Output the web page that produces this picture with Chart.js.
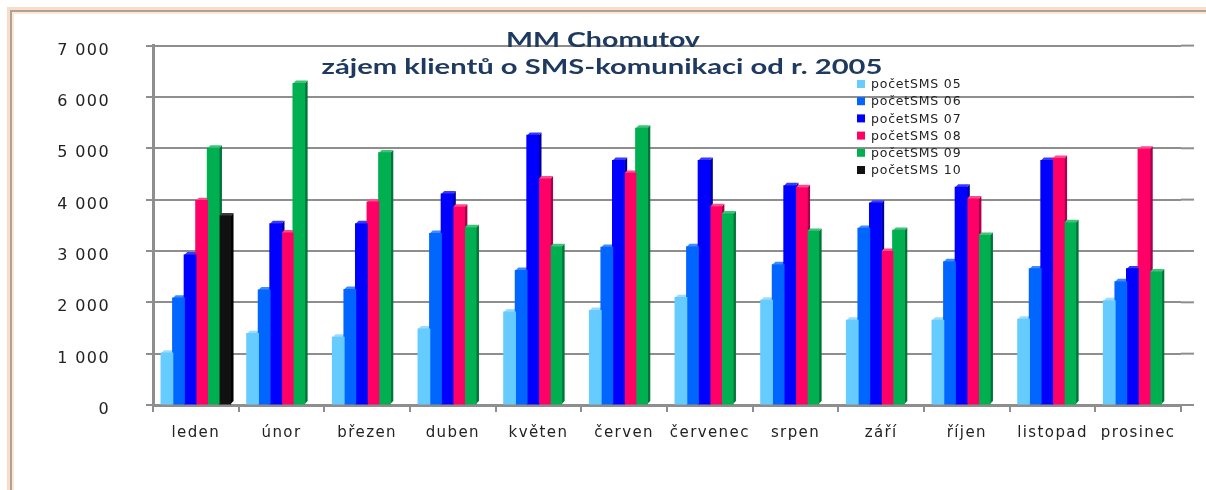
<!DOCTYPE html>
<html>
<head>
    <meta charset="utf-8">
    <title>MM Chomutov - SMS</title>
    <style>
        body {
            margin: 0;
            padding: 0;
            background-color: #fff;
        }

        #wrap {
            position: relative;
            width: 1206px;
            height: 490px;
            overflow: hidden;
        }

        /* page frame, top and left edge */
        .edge {
            position: absolute;
            right: 0;
            bottom: 0;
        }
        #edge1 { left: 7px; top: 7px; border-top: 3px solid #fbdcc6; border-left: 3px solid #fbdcc6; }
        #edge2 { left: 10px; top: 10px; border-top: 2px solid #aaa39c; border-left: 2px solid #aaa39c; }
        #edge3 { left: 12px; top: 12px; border-top: 2px solid #fde6d4; border-left: 2px solid #fde6d4; }

        canvas {
            position: absolute;
            left: 0;
            top: 0;
        }
    </style>
    <script src="https://cdn.jsdelivr.net/npm/chart.js"></script>
</head>
<body>
    <div id="wrap">
        <div class="edge" id="edge1"></div>
        <div class="edge" id="edge2"></div>
        <div class="edge" id="edge3"></div>
        <canvas id="smsChart" width="1206" height="490"></canvas>
    </div>

    <script>
        // data
        const months = ["leden", "únor", "březen", "duben", "květen", "červen", "červenec", "srpen", "září", "říjen", "listopad", "prosinec"];
        const sms05 = [1010, 1390, 1320, 1480, 1810, 1840, 2090, 2040, 1650, 1650, 1670, 2030];
        const sms06 = [2080, 2240, 2250, 3340, 2620, 3070, 3080, 2730, 3440, 2790, 2650, 2400];
        const sms07 = [2920, 3530, 3530, 4110, 5250, 4760, 4760, 4270, 3930, 4240, 4760, 2650];
        const sms08 = [3980, 3350, 3950, 3850, 4400, 4510, 3860, 4230, 2990, 4010, 4800, 4980];
        const sms09 = [5000, 6260, 4910, 3450, 3080, 5390, 3720, 3380, 3400, 3300, 3550, 2590];
        const sms10 = [3680, null, null, null, null, null, null, null, null, null, null, null];
        const seriesNames = ["početSMS 05", "početSMS 06", "početSMS 07", "početSMS 08", "početSMS 09", "početSMS 10"];
        const yTicks = [0, 1000, 2000, 3000, 4000, 5000, 6000, 7000];
        const titleLines = ["MM Chomutov", "zájem klientů o SMS-komunikaci od r. 2005"];

        const fills = ["#66ccff", "#0066ff", "#0000ff", "#ff0066", "#00b050", "#111111"];
        const sides = ["#45a2d2", "#0049bb", "#0000a0", "#a8004a", "#00753a", "#000000"];
        const tops = ["#9adcff", "#3d8cff", "#3a3aff", "#ff4a8c", "#3ec47a", "#3a3a3a"];
        const gridGray = "#8e8e8e";

        const allSeries = [sms05, sms06, sms07, sms08, sms09, sms10];
        const datasets = allSeries.map((vals, i) => ({
            label: seriesNames[i],
            data: vals,
            backgroundColor: fills[i],
            borderWidth: 0,
            inflateAmount: 0.6,
            categoryPercentage: 0.81,
            barPercentage: 1.0
        }));

        const DEPTH_X = 3;
        const DEPTH_Y = 3;

        // letter spacing for the axis texts (looks like Verdana in the original)
        const spacing = {
            id: "spacing",
            beforeDraw(chart) {
                chart.ctx.letterSpacing = "1.4px";
            }
        };

        // fake 3D: side and top face of each bar, drawn before the bars so the
        // next bar in the group hides what should be hidden
        const depth = {
            id: "depth",
            beforeDatasetsDraw(chart) {
                const ctx = chart.ctx;
                const area = chart.chartArea;
                ctx.save();
                // back wall grid runs a bit past the front of the floor
                ctx.strokeStyle = gridGray;
                ctx.lineWidth = 2;
                const yScale = chart.scales.y;
                yScale.ticks.forEach(t => {
                    const y = yScale.getPixelForValue(t.value);
                    ctx.beginPath();
                    ctx.moveTo(area.right, y);
                    ctx.lineTo(area.right + 13, y);
                    ctx.stroke();
                });
                chart.data.datasets.forEach((ds, i) => {
                    const meta = chart.getDatasetMeta(i);
                    meta.data.forEach((bar, j) => {
                        if (ds.data[j] == null) return;
                        const left = bar.x - bar.width / 2;
                        const right = bar.x + bar.width / 2;
                        const top = bar.y;
                        const base = bar.base;
                        ctx.fillStyle = sides[i];
                        ctx.beginPath();
                        ctx.moveTo(right, top);
                        ctx.lineTo(right + DEPTH_X, top - DEPTH_Y);
                        ctx.lineTo(right + DEPTH_X, base - DEPTH_Y);
                        ctx.lineTo(right, base);
                        ctx.closePath();
                        ctx.fill();
                        ctx.fillStyle = tops[i];
                        ctx.beginPath();
                        ctx.moveTo(left, top);
                        ctx.lineTo(left + DEPTH_X, top - DEPTH_Y);
                        ctx.lineTo(right + DEPTH_X, top - DEPTH_Y);
                        ctx.lineTo(right, top);
                        ctx.closePath();
                        ctx.fill();
                    });
                });
                ctx.restore();
            }
        };

        // title and legend sit on top of the plot, like in the original
        function stretchedText(ctx, text, cx, cy, sx) {
            ctx.save();
            ctx.translate(cx, cy);
            ctx.scale(sx, 1);
            ctx.fillText(text, 0, 0);
            ctx.restore();
        }

        const overlay = {
            id: "overlay",
            afterDraw(chart) {
                const ctx = chart.ctx;
                ctx.save();
                ctx.letterSpacing = "0px";
                ctx.fillStyle = "#1f3a60";
                ctx.font = "bold 21px Lato";
                ctx.textAlign = "center";
                ctx.textBaseline = "middle";
                stretchedText(ctx, titleLines[0], 603, 40, 1.36);
                stretchedText(ctx, titleLines[1], 602, 67, 1.39);

                ctx.letterSpacing = "0.8px";
                ctx.font = "12.5px 'DejaVu Sans'";
                ctx.textAlign = "left";
                chart.data.datasets.forEach((ds, i) => {
                    const y = 84 + i * 17.2;
                    ctx.fillStyle = ds.backgroundColor;
                    ctx.fillRect(857, y - 4, 8, 8);
                    ctx.fillStyle = "#222";
                    ctx.fillText(ds.label, 871, y + 1);
                });
                ctx.restore();
            }
        };

        const ctx = document.getElementById("smsChart").getContext("2d");
        new Chart(ctx, {
            type: "bar",
            data: {
                labels: months,
                datasets: datasets
            },
            options: {
                responsive: false,
                animation: false,
                layout: {
                    padding: { top: 43, right: 25, left: 0, bottom: 0 }
                },
                plugins: {
                    legend: { display: false },
                    title: { display: false },
                    tooltip: { enabled: false }
                },
                scales: {
                    x: {
                        grid: {
                            drawOnChartArea: false,
                            color: gridGray,
                            lineWidth: 2,
                            tickLength: 7
                        },
                        border: { color: gridGray, width: 3 },
                        ticks: {
                            color: "#222",
                            font: { family: "DejaVu Sans", size: 15 },
                            padding: 12,
                            maxRotation: 0,
                            autoSkip: false
                        },
                        afterFit(scale) {
                            scale.height = 85;
                        }
                    },
                    y: {
                        min: yTicks[0],
                        max: yTicks[yTicks.length - 1],
                        afterBuildTicks(scale) {
                            scale.ticks = yTicks.map(v => ({ value: v }));
                        },
                        grid: {
                            color: gridGray,
                            lineWidth: 2,
                            tickLength: 7
                        },
                        border: { color: gridGray, width: 3 },
                        ticks: {
                            color: "#222",
                            font: { family: "DejaVu Sans", size: 16 },
                            padding: 36,
                            labelOffset: 5,
                            callback: v => v === 0 ? "0" : (v / 1000) + " 000"
                        },
                        afterFit(scale) {
                            scale.width = 153;
                        }
                    }
                }
            },
            plugins: [spacing, depth, overlay]
        });
    </script>
</body>
</html>
